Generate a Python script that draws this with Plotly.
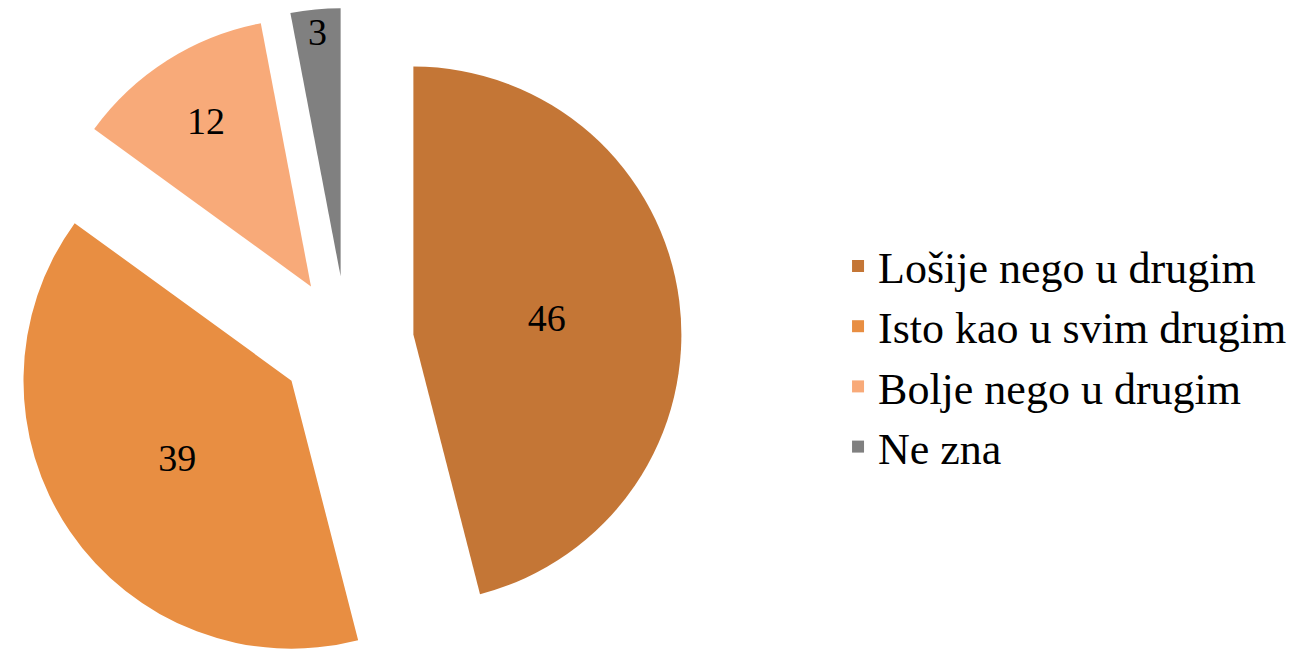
import plotly.graph_objects as go

# answer categories and shares (%)
labels = ["Lošije nego u drugim", "Isto kao u svim drugim", "Bolje nego u drugim", "Ne zna"]
values = [46, 39, 12, 3]
colors = ["#C47636", "#E88E42", "#F8AA79", "#808080"]

fig = go.Figure(go.Pie(
    labels=labels,
    values=values,
    sort=False,
    direction="clockwise",
    rotation=0,
    pull=0.25,
    marker=dict(colors=colors),
    texttemplate="%{value}",
    textposition="inside",
    insidetextorientation="horizontal",
    textfont=dict(family="Liberation Serif", size=38, color="black"),
    domain=dict(x=[0, 0.521], y=[0, 1]),
))

# legend on the right, large serif text
fig.update_layout(
    width=1301, height=670,
    margin=dict(l=0, r=0, t=0, b=0),
    paper_bgcolor="white",
    font=dict(family="Liberation Serif", color="black"),
    legend=dict(x=0.638, y=0.48, xanchor="left", yanchor="middle",
                font=dict(size=44, family="Liberation Serif"),
                bgcolor="rgba(0,0,0,0)"),
)

fig.write_html("out.html")
